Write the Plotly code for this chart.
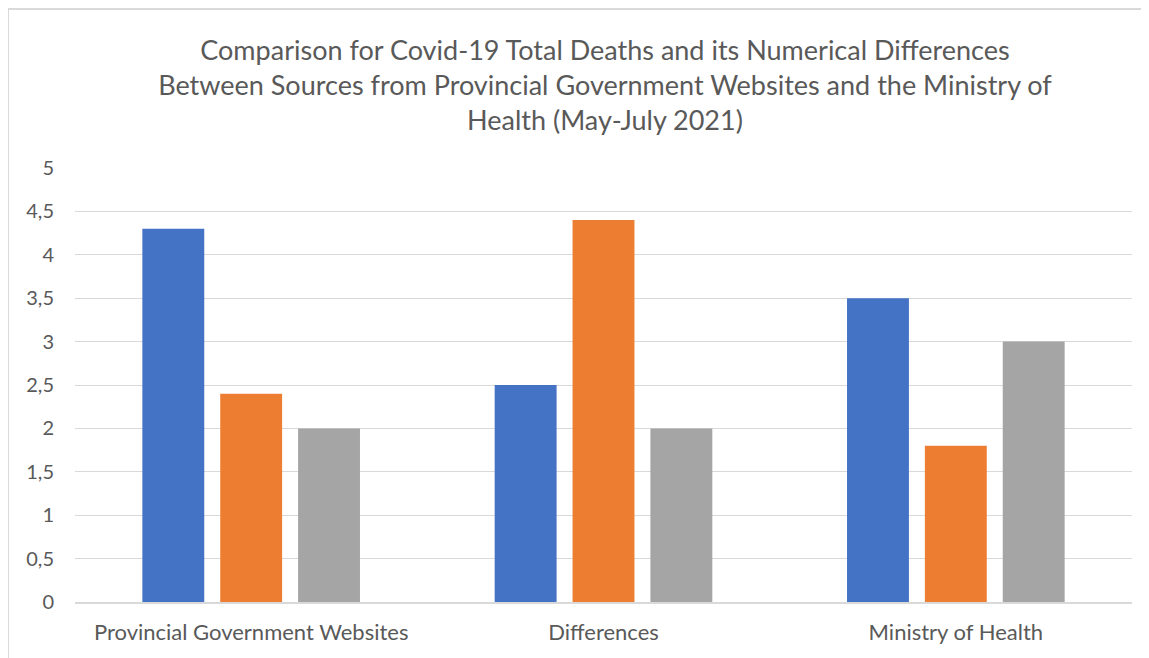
import plotly.graph_objects as go

categories = ["Provincial Government Websites", "Differences", "Ministry of Health"]
series1 = [4.3, 2.5, 3.5]
series2 = [2.4, 4.4, 1.8]
series3 = [2.0, 2.0, 3.0]
series_names = ["Series 1", "Series 2", "Series 3"]
colors = ["#4472C4", "#ED7D31", "#A5A5A5"]
tick_vals = [0, 0.5, 1, 1.5, 2, 2.5, 3, 3.5, 4, 4.5, 5]
tick_text = ["0", "0,5", "1", "1,5", "2", "2,5", "3", "3,5", "4", "4,5", "5"]

OFF = 8  # page body margin
W, H = 1149 - OFF, 658 - OFF
L, R, T, B = 75 - OFF, 17, 168 - OFF, 56

fig = go.Figure()
for name, vals, c in zip(series_names, [series1, series2, series3], colors):
    fig.add_trace(go.Bar(x=categories, y=vals, name=name, marker=dict(color=c, line=dict(width=0))))

pw = W - L - R
ph = H - T - B
FONT = "Lato, Open Sans, sans-serif"
fig.update_layout(
    width=W, height=H,
    margin=dict(l=L, r=R, t=T, b=B),
    paper_bgcolor="white", plot_bgcolor="white",
    barmode="group", bargap=0.337, bargroupgap=0.205,
    showlegend=False,
    font=dict(family=FONT, color="#595959", size=20),
    title=dict(
        text="Comparison for Covid-19 Total Deaths and its Numerical Differences<br>Between Sources from Provincial Government Websites and the Ministry of<br>Health (May-July 2021)",
        x=(605 - OFF - L) / pw, xanchor="center", xref="paper", y=1 - (60 - OFF) / H, yanchor="top",
        font=dict(size=27, color="#595959", family=FONT),
    ),
    xaxis=dict(showgrid=False, showline=True, linecolor="#D9D9D9", linewidth=1.5,
               ticks="", tickfont=dict(size=22, color="#595959"), ticklabelstandoff=10),
    yaxis=dict(range=[0, 5], tickvals=tick_vals, ticktext=tick_text, showgrid=True,
               gridcolor="#D9D9D9", gridwidth=1, zeroline=False, showline=False, ticks="",
               tickfont=dict(size=20, color="#595959"), ticklabelstandoff=20),
    shapes=[
        dict(type="line", xref="paper", yref="paper",
             x0=(8 - 75) / pw, x1=(1149 - 75) / pw, y0=(602 - 9) / ph, y1=(602 - 9) / ph,
             line=dict(color="#D9D9D9", width=2)),
        dict(type="line", xref="paper", yref="paper",
             x0=(8 - 75) / pw, x1=(8 - 75) / pw, y0=(602 - 9) / ph, y1=(602 - 660) / ph,
             line=dict(color="#D9D9D9", width=2)),
    ],
)
fig.write_html("out.html")
